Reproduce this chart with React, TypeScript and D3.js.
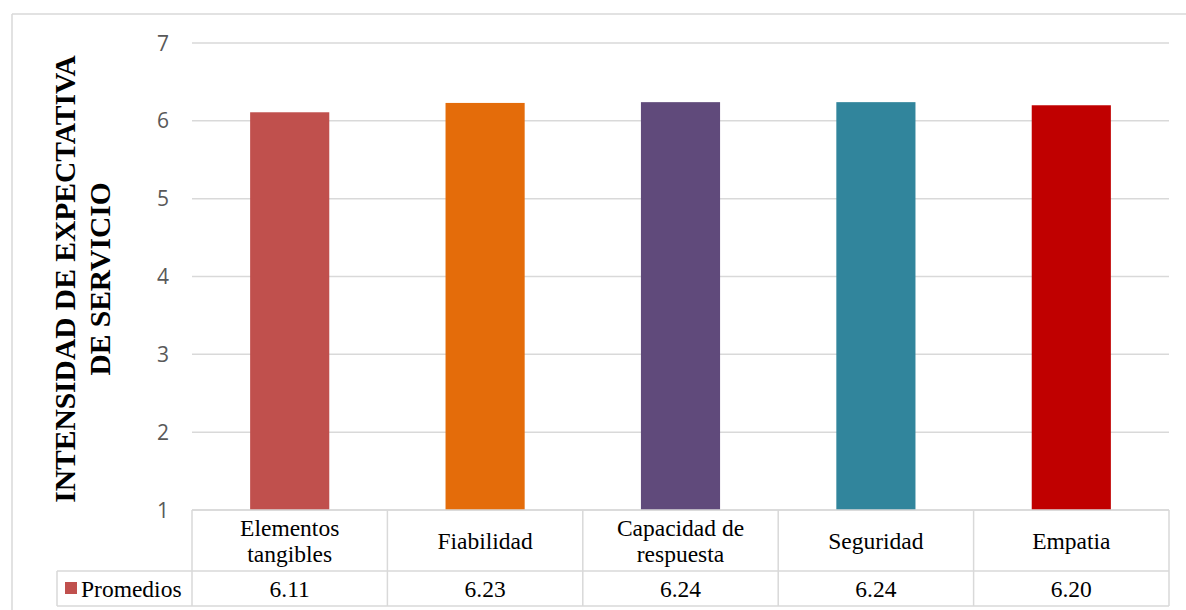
import React from "react";
import * as d3 from "d3";

const categories: string[][] = [
  ["Elementos", "tangibles"],
  ["Fiabilidad"],
  ["Capacidad de", "respuesta"],
  ["Seguridad"],
  ["Empatia"],
];
const values: number[] = [6.11, 6.23, 6.24, 6.24, 6.2];
const valueLabels: string[] = ["6.11", "6.23", "6.24", "6.24", "6.20"];
const colors: string[] = ["#C0504D", "#E46C0A", "#604A7B", "#31859C", "#C00000"];
const yTicks: number[] = [1, 2, 3, 4, 5, 6, 7];
const seriesName = "Promedios";
const titleLines = ["INTENSIDAD DE EXPECTATIVA", "DE SERVICIO"];

export default function App() {
  const W = 1186;
  const H = 610;
  const left = 192;
  const right = 1169;
  const top = 43;
  const bottom = 510;
  const rowSplit = 571;
  const tableBottom = 606;
  const legendLeft = 57;

  const x = d3
    .scaleBand<number>()
    .domain(values.map((_, i) => i))
    .range([left, right])
    .paddingInner(0)
    .paddingOuter(0);
  const y = d3.scaleLinear().domain([1, 7]).range([bottom, top]);
  const barW = x.bandwidth() * 0.405;
  const grid = "#d9d9d9";
  const serif = "'Liberation Serif', 'Times New Roman', serif";
  const tfs = 23.5;

  return (
    <svg
      width={W}
      height={H}
      style={{ position: "absolute", left: 0, top: 0 }}
      xmlns="http://www.w3.org/2000/svg"
    >
      <rect x={0} y={0} width={W} height={H} fill="#fff" />
      {/* outer chart border */}
      <line x1={12} y1={14} x2={W} y2={14} stroke={grid} strokeWidth={1.5} />
      <line x1={12} y1={14} x2={12} y2={H} stroke={grid} strokeWidth={1.5} />

      {/* gridlines */}
      {yTicks.map((t) => (
        <line
          key={t}
          x1={left}
          x2={right}
          y1={y(t)}
          y2={y(t)}
          stroke={grid}
          strokeWidth={1.5}
        />
      ))}
      {/* tick labels */}
      {yTicks.map((t) => (
        <text
          key={"l" + t}
          x={169}
          y={y(t)}
          dy="0.36em"
          textAnchor="end"
          fontFamily="'Open Sans', sans-serif"
          fontSize={21}
          fill="#595959"
        >
          {t}
        </text>
      ))}

      {/* bars */}
      {values.map((v, i) => (
        <rect
          key={i}
          x={(x(i) as number) + (x.bandwidth() - barW) / 2}
          y={y(v)}
          width={barW}
          height={y(1) - y(v)}
          fill={colors[i]}
        />
      ))}

      {/* data table */}
      <g stroke={grid} strokeWidth={1.5} fill="none">
        <line x1={left} x2={right} y1={bottom} y2={bottom} />
        <line x1={legendLeft} x2={right} y1={rowSplit} y2={rowSplit} />
        <line x1={legendLeft} x2={right} y1={tableBottom} y2={tableBottom} />
        <line x1={legendLeft} x2={legendLeft} y1={rowSplit} y2={tableBottom} />
        {values.map((_, i) => (
          <line
            key={i}
            x1={x(i) as number}
            x2={x(i) as number}
            y1={bottom}
            y2={tableBottom}
          />
        ))}
        <line x1={right} x2={right} y1={bottom} y2={tableBottom} />
      </g>
      {categories.map((lines, i) => {
        const cx = (x(i) as number) + x.bandwidth() / 2;
        const mid = (bottom + rowSplit) / 2;
        const lh = 26;
        return (
          <text
            key={i}
            textAnchor="middle"
            fontFamily={serif}
            fontSize={tfs}
            fill="#000"
          >
            {lines.map((ln, j) => (
              <tspan
                key={j}
                x={cx}
                y={mid + (j - (lines.length - 1) / 2) * lh}
                dy="0.35em"
              >
                {ln}
              </tspan>
            ))}
          </text>
        );
      })}
      {valueLabels.map((lab, i) => (
        <text
          key={i}
          x={(x(i) as number) + x.bandwidth() / 2}
          y={(rowSplit + tableBottom) / 2}
          dy="0.35em"
          textAnchor="middle"
          fontFamily={serif}
          fontSize={tfs}
          fill="#000"
        >
          {lab}
        </text>
      ))}
      <rect x={65} y={582} width={12} height={12} fill={colors[0]} />
      <text
        x={81}
        y={(rowSplit + tableBottom) / 2}
        dy="0.35em"
        fontFamily={serif}
        fontSize={tfs}
        fill="#000"
      >
        {seriesName}
      </text>

      {/* y-axis title */}
      <text
        transform="translate(82,279) rotate(-90)"
        textAnchor="middle"
        fontFamily={serif}
        fontWeight="bold"
        fontSize={29.5}
        fill="#000"
      >
        {titleLines.map((ln, j) => (
          <tspan key={j} x={0} y={(j - 0.5) * 35} dy="0.35em">
            {ln}
          </tspan>
        ))}
      </text>
    </svg>
  );
}
